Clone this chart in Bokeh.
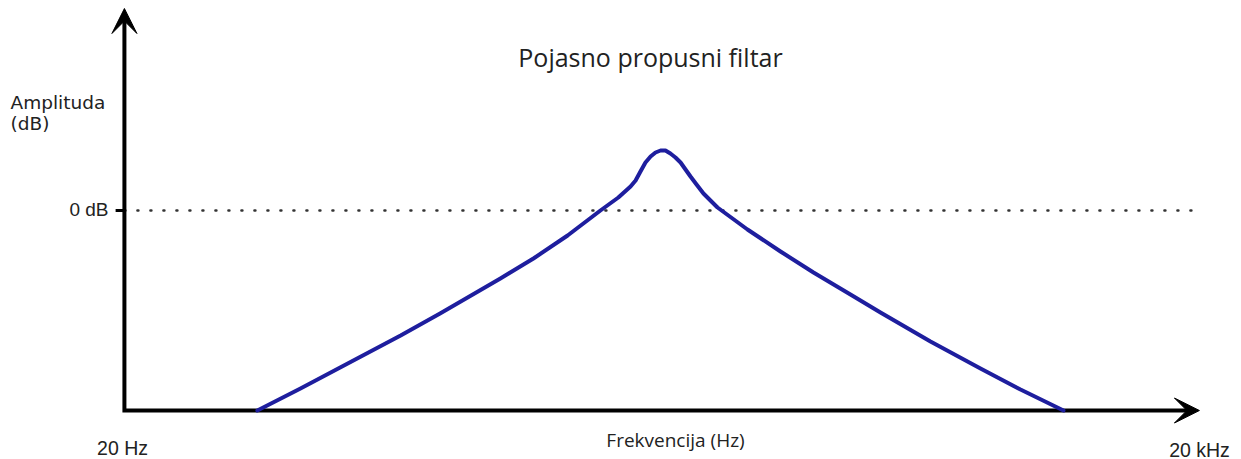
from bokeh.plotting import figure
from bokeh.models import Range1d, LogScale, Label, Arrow, VeeHead
from bokeh.embed import file_html
from bokeh.resources import INLINE

# Frequency response of the band-pass filter
freq_hz = [47, 62, 80, 118, 152, 224, 277, 345, 426, 478, 517, 534, 551, 569,
           588, 607, 627, 647, 668, 690, 713, 736, 760, 790, 826, 864, 904,
           1096, 1355, 1675, 2124, 2576, 3552, 4898, 6334, 8351]
gain_db = [-20.0, -17.8, -15.7, -12.5, -10.3, -6.8, -4.8, -2.5, 0.0, 1.3, 2.4,
           3.0, 3.9, 4.8, 5.4, 5.8, 6.0, 6.0, 5.7, 5.3, 4.8, 4.1, 3.4, 2.6,
           1.7, 1.0, 0.3, -1.9, -4.1, -6.2, -8.4, -10.2, -13.1, -15.8, -17.9,
           -20.0]

f_min, f_max = 20, 20000
db_floor, db_ref, db_top = -20, 0, 20.2

title_text = "Pojasno propusni filtar"
y_label_lines = ["Amplituda", "(dB)"]
x_label = "Frekvencija (Hz)"
ref_label = "0 dB"
f_min_label = "20 Hz"
f_max_label = "20 kHz"

p = figure(width=1241, height=459,
           x_range=Range1d(9.02, 26210), y_range=Range1d(-24.9, 21.0),
           x_axis_type="log", x_axis_location=None, y_axis_location=None,
           toolbar_location=None, output_backend="svg", min_border=0,
           outline_line_color=None, background_fill_color="white",
           border_fill_color="white")
p.x_scale = LogScale()
p.grid.visible = False

# dotted 0 dB reference line
p.line([f_min, 19000], [db_ref, db_ref], line_dash="1 12", line_width=2.5,
       line_cap="round", color="#333333")
# tick at 0 dB
p.line([18.9, f_min], [db_ref, db_ref], line_width=3, color="black")

# axes
p.line([f_min, f_min, 18760], [db_top - 1.0, db_floor, db_floor], line_width=4,
       color="black", line_join="miter")
p.add_layout(Arrow(end=VeeHead(size=25, fill_color="black", line_color="black"),
                   x_start=f_min, y_start=db_top - 2, x_end=f_min, y_end=db_top,
                   line_alpha=0))
p.add_layout(Arrow(end=VeeHead(size=25, fill_color="black", line_color="black"),
                   x_start=15000, y_start=db_floor, x_end=f_max, y_end=db_floor,
                   line_alpha=0))

# response curve
p.line(freq_hz, gain_db, line_width=4, color="#1e1e9e", line_join="round",
       line_cap="round")

txt = "#222222"
p.add_layout(Label(x=650, y=403, x_units="screen", y_units="screen", text=title_text,
                   text_font="Open Sans", text_font_size="25px", text_align="center",
                   text_baseline="alphabetic", text_color=txt))
p.add_layout(Label(x=10, y=357, x_units="screen", y_units="screen", text=y_label_lines[0],
                   text_font="DejaVu Sans", text_font_size="18.5px", text_align="left",
                   text_baseline="alphabetic", text_color=txt))
p.add_layout(Label(x=10, y=336, x_units="screen", y_units="screen", text=y_label_lines[1],
                   text_font="DejaVu Sans", text_font_size="18.5px", text_align="left",
                   text_baseline="alphabetic", text_color=txt))
p.add_layout(Label(x=108, y=250, x_units="screen", y_units="screen", text=ref_label,
                   text_font="Liberation Sans", text_font_size="19px", text_align="right",
                   text_baseline="alphabetic", text_color=txt))
p.add_layout(Label(x=122, y=12, x_units="screen", y_units="screen", text=f_min_label,
                   text_font="Liberation Sans", text_font_size="19.5px", text_align="center",
                   text_baseline="alphabetic", text_color=txt))
p.add_layout(Label(x=1199, y=10, x_units="screen", y_units="screen", text=f_max_label,
                   text_font="Liberation Sans", text_font_size="19.5px", text_align="center",
                   text_baseline="alphabetic", text_color=txt))
p.add_layout(Label(x=675, y=20, x_units="screen", y_units="screen", text=x_label,
                   text_font="Open Sans", text_font_size="19px", text_align="center",
                   text_baseline="alphabetic", text_color=txt))

open("out.html", "w").write(file_html(p, INLINE))
